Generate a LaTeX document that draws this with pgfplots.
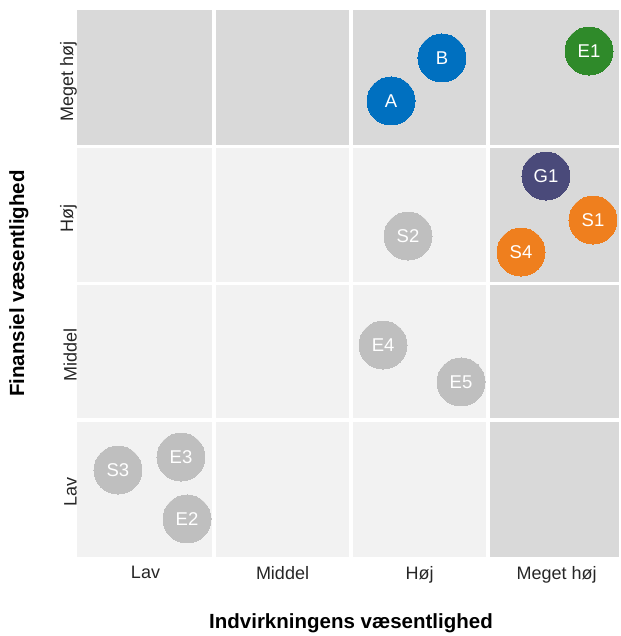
\documentclass[border=0pt]{standalone}
\usepackage{fontspec}
\setmainfont{Liberation Sans}
\usepackage{pgfplots}
\pgfplotsset{compat=1.18}
\definecolor{cdark}{RGB}{217,217,217}
\definecolor{clight}{RGB}{242,242,242}
\definecolor{cblue}{RGB}{0,112,192}
\definecolor{cgreen}{RGB}{47,138,42}
\definecolor{cpurple}{RGB}{74,74,122}
\definecolor{corange}{RGB}{239,127,30}
\definecolor{cgray}{RGB}{191,191,191}
\begin{document}
\begin{tikzpicture}
\begin{axis}[
  scale only axis, width=542pt, height=547pt,
  xmin=0, xmax=3.956, ymin=0, ymax=4,
  axis line style={draw=none},
  major tick length=0pt,
  xtick={0.5,1.5,2.5,3.5}, ytick={0.5,1.5,2.5,3.5},
  xticklabels={Lav,Middel,Høj,Meget høj},
  yticklabels={Lav,Middel,Høj,Meget høj},
  ticklabel style={font=\fontsize{18}{21}\selectfont, text=black!85},
  xticklabel style={inner sep=0pt, anchor=north, yshift=-9pt},
  yticklabel style={rotate=90, anchor=south, inner sep=0pt, xshift=-3pt},
  xlabel={Indvirkningens væsentlighed},
  ylabel={Finansiel væsentlighed},
  every axis x label/.style={at={(axis description cs:0.5055,-0.104)}, anchor=north, inner sep=0pt, font=\fontsize{20.5}{23}\selectfont\bfseries},
  every axis y label/.style={at={(axis description cs:-0.089,0.5)}, rotate=90, anchor=south, inner sep=0pt, font=\fontsize{20.5}{23}\selectfont\bfseries},
  clip=false,
  nodes near coords,
  point meta=explicit symbolic,
  every node near coord/.style={anchor=center, text=white, font=\fontsize{18.5}{21}\selectfont},
]
% background cells
\fill[clight] (axis cs:0,0) rectangle (axis cs:3,3);
\fill[cdark] (axis cs:0,3) rectangle (axis cs:3.956,4);
\fill[cdark] (axis cs:3,0) rectangle (axis cs:3.956,3);
\foreach \v in {1,2,3} {
  \edef\tmp{\noexpand\draw[white, line width=3.5pt] (axis cs:\v,0) -- (axis cs:\v,4);
  \noexpand\draw[white, line width=3.5pt] (axis cs:0,\v) -- (axis cs:3.956,\v);}
  \tmp
}
\addplot[only marks, color=cgray, mark=*, mark size=24pt, mark options={fill=cgray, draw=cgray, line width=0pt}] table[meta=label] {
x y label
2.416 2.347 S2
2.234 1.550 E4
2.803 1.280 E5
0.299 0.636 S3
0.759 0.731 E3
0.803 0.278 E2
};
\addplot[only marks, color=cblue, mark=*, mark size=24pt, mark options={fill=cblue, draw=cblue, line width=0pt}] table[meta=label] {
x y label
2.292 3.335 A
2.664 3.649 B
};
\addplot[only marks, color=cgreen, mark=*, mark size=24pt, mark options={fill=cgreen, draw=cgreen, line width=0pt}] table[meta=label] {
x y label
3.737 3.700 E1
};
\addplot[only marks, color=cpurple, mark=*, mark size=24pt, mark options={fill=cpurple, draw=cpurple, line width=0pt}] table[meta=label] {
x y label
3.423 2.786 G1
};
\addplot[only marks, color=corange, mark=*, mark size=24pt, mark options={fill=corange, draw=corange, line width=0pt}] table[meta=label] {
x y label
3.766 2.464 S1
3.241 2.230 S4
};
\end{axis}
\path ([xshift=-77pt,yshift=10pt]current axis.north west) rectangle ([yshift=-79pt]current axis.south east);
\end{tikzpicture}
\end{document}
